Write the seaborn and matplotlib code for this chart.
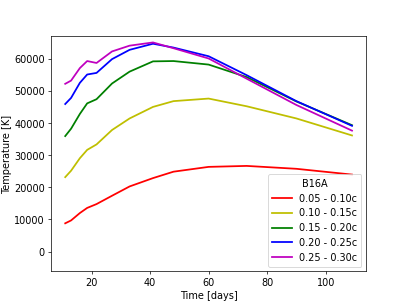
import pandas as pd
import numpy as np
import matplotlib
matplotlib.use("Agg")
import matplotlib.pyplot as plt
import seaborn as sns

# Time points (days) and temperatures
days = [11, 13, 16, 18.5, 21.7, 27, 33, 41, 48, 60, 73, 90, 109]

temp_005_010 = [8800, 9700, 12000, 13600, 14800, 17400, 20300, 22900, 24900, 26400, 26700, 25800, 24000]
temp_010_015 = [23200, 25200, 29100, 31700, 33400, 37900, 41500, 45100, 46900, 47700, 45300, 41500, 36200]
temp_015_020 = [36000, 38300, 42900, 46200, 47500, 52400, 56100, 59300, 59400, 58300, 54400, 46800, 39400]
temp_020_025 = [46000, 47900, 52600, 55200, 55700, 60000, 62900, 64800, 63600, 60900, 55000, 46900, 39200]
temp_025_030 = [52300, 53300, 57200, 59400, 58800, 62400, 64200, 65200, 63400, 60200, 53900, 45700, 37700]

labels = ['0.05 - 0.10c', '0.10 - 0.15c', '0.15 - 0.20c', '0.20 - 0.25c', '0.25 - 0.30c']
colors = ['r', 'y', 'g', 'b', 'm']

# Long format for seaborn
series = [temp_005_010, temp_010_015, temp_015_020, temp_020_025, temp_025_030]
frames = []
for lab, vals in zip(labels, series):
    frames.append(pd.DataFrame({'Time': days, 'Temperature': vals, 'Velocity': lab}))
df = pd.concat(frames, ignore_index=True)

# original looks like a 6.4x4.8 figure scaled down
fs = 11
fig, ax = plt.subplots(figsize=(6.4, 4.8), dpi=63.6)
sns.lineplot(data=df, x='Time', y='Temperature', hue='Velocity',
             palette=dict(zip(labels, colors)), ax=ax, linewidth=2)

ax.set_xlabel('Time [days]', fontsize=fs)
ax.set_ylabel('Temperature [K]', fontsize=fs, labelpad=2)
ax.tick_params(labelsize=fs)
ax.set_ylim(-6200, 67100)
ax.set_yticks(np.arange(0, 60001, 10000))
ax.legend(title='B16A', loc='lower right', fontsize=fs, title_fontsize=fs)

fig.savefig('out.png', dpi=63.6)
